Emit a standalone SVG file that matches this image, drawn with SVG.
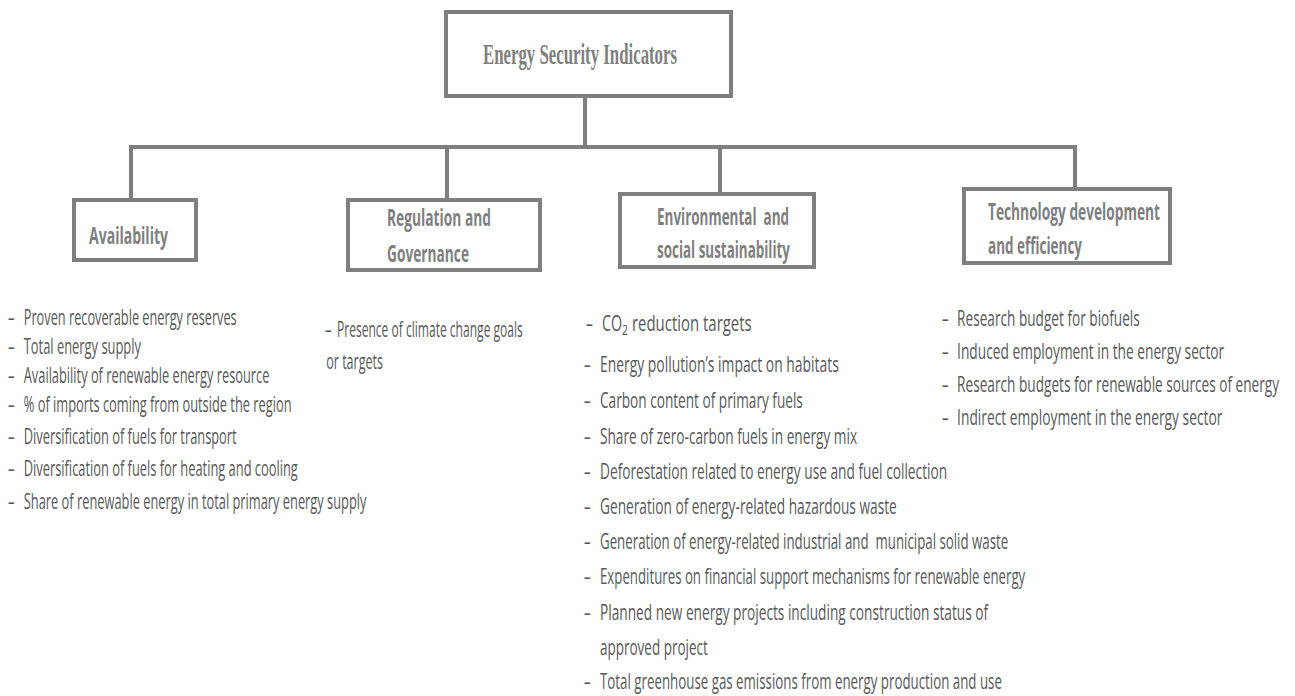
<svg xmlns="http://www.w3.org/2000/svg" width="1295" height="696" viewBox="0 0 1295 696">
  <style>
    .box { fill: #ffffff; stroke: #7f7f7f; stroke-width: 4; }
    .conn { fill: none; stroke: #7f7f7f; stroke-width: 4; }
    .title { font-family: "Liberation Serif", "Times New Roman", serif; font-weight: bold; font-size: 30px; fill: #7f7f7f; }
    .label { font-family: "Open Sans", "Liberation Sans", sans-serif; font-weight: bold; font-size: 23px; fill: #7f7f7f; }
    .item { font-family: "Open Sans", "Liberation Sans", sans-serif; font-size: 21px; fill: #595959; }
    .co2 { font-size: 22px; }
    .sub { font-size: 14px; }
  </style>
  <rect width="1295" height="696" fill="#ffffff"/>

  <!-- tree connectors -->
  <g id="connectors">
    <line class="conn" x1="585" y1="98" x2="585" y2="147"/>
    <path class="conn" d="M131,199 V147 H1075 V188"/>
    <line class="conn" x1="447" y1="147" x2="447" y2="199"/>
    <line class="conn" x1="720" y1="147" x2="720" y2="193"/>
  </g>

  <g id="root">
    <rect class="box" x="446" y="12" width="285" height="84"/>
    <text class="title" x="483" y="64" textLength="194" lengthAdjust="spacingAndGlyphs">Energy Security Indicators</text>
  </g>

  <g id="availability">
    <rect class="box" x="74" y="200" width="122" height="60"/>
    <text class="label" x="89" y="244" textLength="79" lengthAdjust="spacingAndGlyphs">Availability</text>
  </g>

  <g id="regulation">
    <rect class="box" x="348" y="200" width="192" height="70"/>
    <text class="label" x="387" y="226" textLength="104" lengthAdjust="spacingAndGlyphs">Regulation and</text>
    <text class="label" x="387" y="262" textLength="82" lengthAdjust="spacingAndGlyphs">Governance</text>
  </g>

  <g id="environmental">
    <rect class="box" x="620" y="194" width="194" height="73"/>
    <text class="label" x="657" y="225" textLength="132" lengthAdjust="spacingAndGlyphs" xml:space="preserve">Environmental  and</text>
    <text class="label" x="657" y="258" textLength="133" lengthAdjust="spacingAndGlyphs">social sustainability</text>
  </g>

  <g id="technology">
    <rect class="box" x="964" y="189" width="206" height="74"/>
    <text class="label" x="988" y="220" textLength="172" lengthAdjust="spacingAndGlyphs">Technology development</text>
    <text class="label" x="988" y="254" textLength="94" lengthAdjust="spacingAndGlyphs">and efficiency</text>
  </g>

  <!-- indicator lists, set in a condensed face (horizontal scale 0.63) -->
  <g id="availability-items" transform="translate(8,0) scale(0.63,1)">
    <text class="item" x="0" y="325">–</text>
    <text class="item" x="25" y="325" textLength="338" lengthAdjust="spacingAndGlyphs">Proven recoverable energy reserves</text>
    <text class="item" x="0" y="354">–</text>
    <text class="item" x="25" y="354" textLength="186" lengthAdjust="spacingAndGlyphs">Total energy supply</text>
    <text class="item" x="0" y="383">–</text>
    <text class="item" x="25" y="383" textLength="390" lengthAdjust="spacingAndGlyphs">Availability of renewable energy resource</text>
    <text class="item" x="0" y="412">–</text>
    <text class="item" x="25" y="412" textLength="425" lengthAdjust="spacingAndGlyphs">% of imports coming from outside the region</text>
    <text class="item" x="0" y="444">–</text>
    <text class="item" x="25" y="444" textLength="338" lengthAdjust="spacingAndGlyphs">Diversification of fuels for transport</text>
    <text class="item" x="0" y="476">–</text>
    <text class="item" x="25" y="476" textLength="435" lengthAdjust="spacingAndGlyphs">Diversification of fuels for heating and cooling</text>
    <text class="item" x="0" y="509">–</text>
    <text class="item" x="25" y="509" textLength="544" lengthAdjust="spacingAndGlyphs">Share of renewable energy in total primary energy supply</text>
  </g>

  <g id="regulation-items" transform="translate(325,0) scale(0.63,1)">
    <text class="item" x="0" y="337">–</text>
    <text class="item" x="19" y="337" textLength="295" lengthAdjust="spacingAndGlyphs">Presence of climate change goals</text>
    <text class="item" x="2" y="369" textLength="90" lengthAdjust="spacingAndGlyphs">or targets</text>
  </g>

  <g id="environmental-items" transform="translate(584,0) scale(0.63,1)">
    <text class="item co2" x="3" y="331">–</text>
    <text class="item co2" x="28.6" y="331" textLength="32" lengthAdjust="spacingAndGlyphs">CO</text>
    <text class="item sub" x="60.3" y="335" textLength="9.5" lengthAdjust="spacingAndGlyphs">2</text>
    <text class="item co2" x="76.2" y="331" textLength="190" lengthAdjust="spacingAndGlyphs">reduction targets</text>
    <text class="item" x="0" y="372">–</text>
    <text class="item" x="25.4" y="372" textLength="379" lengthAdjust="spacingAndGlyphs">Energy pollution’s impact on habitats</text>
    <text class="item" x="0" y="408">–</text>
    <text class="item" x="25.4" y="408" textLength="322" lengthAdjust="spacingAndGlyphs">Carbon content of primary fuels</text>
    <text class="item" x="0" y="444">–</text>
    <text class="item" x="25.4" y="444" textLength="408" lengthAdjust="spacingAndGlyphs">Share of zero-carbon fuels in energy mix</text>
    <text class="item" x="0" y="479">–</text>
    <text class="item" x="25.4" y="479" textLength="551" lengthAdjust="spacingAndGlyphs">Deforestation related to energy use and fuel collection</text>
    <text class="item" x="0" y="514">–</text>
    <text class="item" x="25.4" y="514" textLength="471" lengthAdjust="spacingAndGlyphs">Generation of energy-related hazardous waste</text>
    <text class="item" x="0" y="549">–</text>
    <text class="item" x="25.4" y="549" textLength="648" lengthAdjust="spacingAndGlyphs" xml:space="preserve">Generation of energy-related industrial and  municipal solid waste</text>
    <text class="item" x="0" y="584">–</text>
    <text class="item" x="25.4" y="584" textLength="675" lengthAdjust="spacingAndGlyphs">Expenditures on financial support mechanisms for renewable energy</text>
    <text class="item" x="0" y="620">–</text>
    <text class="item" x="25.4" y="620" textLength="616" lengthAdjust="spacingAndGlyphs">Planned new energy projects including construction status of</text>
    <text class="item" x="25.4" y="655" textLength="171" lengthAdjust="spacingAndGlyphs">approved project</text>
    <text class="item" x="0" y="689">–</text>
    <text class="item" x="25.4" y="689" textLength="638" lengthAdjust="spacingAndGlyphs">Total greenhouse gas emissions from energy production and use</text>
  </g>

  <g id="technology-items" transform="translate(942,0) scale(0.63,1)">
    <text class="item" x="0" y="326">–</text>
    <text class="item" x="24" y="326" textLength="290" lengthAdjust="spacingAndGlyphs">Research budget for biofuels</text>
    <text class="item" x="0" y="359">–</text>
    <text class="item" x="24" y="359" textLength="424" lengthAdjust="spacingAndGlyphs">Induced employment in the energy sector</text>
    <text class="item" x="0" y="392">–</text>
    <text class="item" x="24" y="392" textLength="511" lengthAdjust="spacingAndGlyphs">Research budgets for renewable sources of energy</text>
    <text class="item" x="0" y="425">–</text>
    <text class="item" x="24" y="425" textLength="421" lengthAdjust="spacingAndGlyphs">Indirect employment in the energy sector</text>
  </g>
</svg>
